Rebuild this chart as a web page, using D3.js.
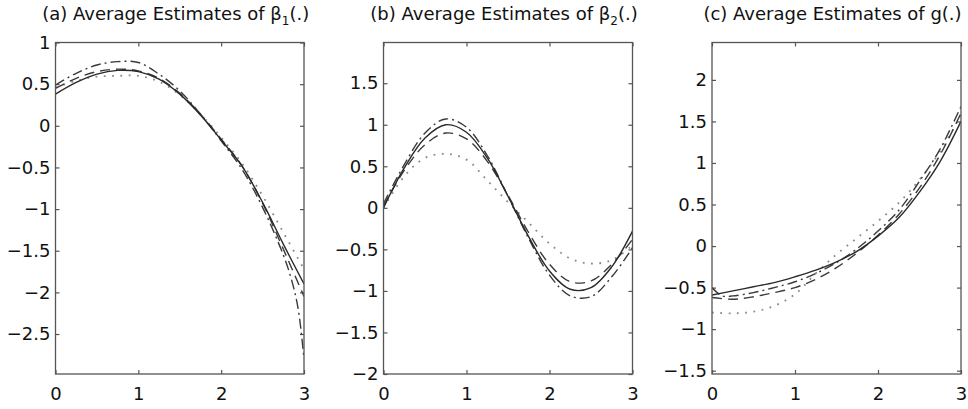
<!DOCTYPE html>
<html>
<head>
<meta charset="utf-8">
<script src="https://cdn.jsdelivr.net/npm/d3@7"></script>
<style>
  body { margin: 0; background: #fff; }
  text { font-family: "DejaVu Sans", sans-serif; fill: #111; }
  .axis path { display: none; }
  .axis line { stroke: #555; stroke-width: 1.2; }
  .axis text { font-size: 18px; }
</style>
</head>
<body>
<div id="content"></div>
<script>
var Width = 968;
var Height = 409;

// x 网格与刻度
var xs = [0, 0.25, 0.5, 0.75, 1, 1.25, 1.5, 1.75, 2, 2.25, 2.5, 2.75, 3];
var xTicks = [0, 1, 2, 3];

// (a) beta1
var aTicks = [-2.5, -2, -1.5, -1, -0.5, 0, 0.5, 1];
var aSolid = [0.38, 0.52, 0.62, 0.665, 0.65, 0.56, 0.38, 0.13, -0.17, -0.48, -0.92, -1.42, -1.9];
var aDashed = [0.45, 0.57, 0.65, 0.68, 0.66, 0.57, 0.39, 0.14, -0.16, -0.48, -0.93, -1.48, -2.05];
var aDashDotX = [0, 0.25, 0.5, 0.75, 1, 1.25, 1.5, 1.75, 2, 2.25, 2.5, 2.75, 2.85, 2.93, 3];
var aDashDot = [0.49, 0.63, 0.73, 0.77, 0.76, 0.62, 0.42, 0.14, -0.18, -0.52, -0.98, -1.55, -1.85, -2.2, -2.8];
var aDotted = [0.46, 0.54, 0.59, 0.6, 0.6, 0.53, 0.37, 0.14, -0.14, -0.45, -0.84, -1.28, -1.72];

// (b) beta2
var bTicks = [-2, -1.5, -1, -0.5, 0, 0.5, 1, 1.5];
var bSolid = [0, 0.48, 0.84, 1.0, 0.91, 0.6, 0.14, -0.35, -0.76, -0.98, -0.96, -0.71, -0.28];
var bDashed = [0.02, 0.45, 0.76, 0.9, 0.83, 0.56, 0.15, -0.3, -0.68, -0.89, -0.88, -0.68, -0.38];
var bDashDot = [0.05, 0.52, 0.9, 1.07, 0.97, 0.63, 0.14, -0.37, -0.81, -1.06, -1.07, -0.83, -0.48];
var bDotted = [0.0, 0.38, 0.6, 0.65, 0.58, 0.33, 0.07, -0.18, -0.43, -0.61, -0.67, -0.63, -0.45];

// (c) g
var cTicks = [-1.5, -1, -0.5, 0, 0.5, 1, 1.5, 2];
var cSolid = [-0.59, -0.54, -0.49, -0.44, -0.37, -0.29, -0.19, -0.06, 0.12, 0.34, 0.65, 1.02, 1.5];
var cDashed = [-0.62, -0.64, -0.61, -0.56, -0.5, -0.4, -0.26, -0.08, 0.13, 0.38, 0.7, 1.1, 1.6];
var cDashDotX = [0, 0.12, 0.25, 0.5, 0.75, 1, 1.25, 1.5, 1.75, 2, 2.25, 2.5, 2.75, 3];
var cDashDot = [-0.5, -0.6, -0.6, -0.56, -0.5, -0.43, -0.33, -0.2, -0.03, 0.18, 0.43, 0.78, 1.17, 1.68];
var cDotted = [-0.8, -0.81, -0.79, -0.72, -0.58, -0.33, -0.1, 0.1, 0.3, 0.52, 0.8, 1.14, 1.58];

var svg = d3
  .select("#content")
  .append("svg")
  .attr("width", Width)
  .attr("height", Height);

// 线型
var styles = {
  solid: { stroke: "#2a2a2a", width: 1.4, dash: null },
  dashed: { stroke: "#3a3a3a", width: 1.4, dash: "10,6" },
  dashdot: { stroke: "#3a3a3a", width: 1.4, dash: "10,4,2,4" },
  dotted: { stroke: "#8a8a8a", width: 1.8, dash: "1.8,6.5" },
};

var panels = [
  {
    left: 55.5, right: 304, domain: [-2.98, 1], yTicks: aTicks,
    title: ["(a) Average Estimates of β", "1", "(.)"],
    series: [
      [xs, aDotted, "dotted"], [xs, aDashed, "dashed"],
      [aDashDotX, aDashDot, "dashdot"], [xs, aSolid, "solid"],
    ],
  },
  {
    left: 383.5, right: 632.5, domain: [-2, 1.99], yTicks: bTicks,
    title: ["(b) Average Estimates of β", "2", "(.)"],
    series: [
      [xs, bDotted, "dotted"], [xs, bDashed, "dashed"],
      [xs, bDashDot, "dashdot"], [xs, bSolid, "solid"],
    ],
  },
  {
    left: 712, right: 961, domain: [-1.54, 2.45], yTicks: cTicks,
    title: ["(c) Average Estimates of g(.)"],
    series: [
      [xs, cDotted, "dotted"], [xs, cDashed, "dashed"],
      [cDashDotX, cDashDot, "dashdot"], [xs, cSolid, "solid"],
    ],
  },
];

var plotTop = 42.5;
var plotBottom = 374;
var fmt = function (d) {
  return String(d).replace("-", "\u2212");
};

panels.forEach(function (p, i) {
  var xScale = d3.scaleLinear().domain([0, 3]).range([p.left, p.right]);
  var yScale = d3.scaleLinear().domain(p.domain).range([plotBottom, plotTop]);
  var g = svg.append("g");

  // 裁剪区域
  g.append("clipPath")
    .attr("id", "clip" + i)
    .append("rect")
    .attr("x", p.left)
    .attr("y", plotTop)
    .attr("width", p.right - p.left)
    .attr("height", plotBottom - plotTop);

  // 坐标轴（刻度朝内，四边都有）
  g.append("g")
    .attr("class", "axis")
    .attr("transform", "translate(0," + plotBottom + ")")
    .call(d3.axisBottom(xScale).tickValues(xTicks).tickFormat(fmt).tickSizeInner(-4).tickSizeOuter(0).tickPadding(13));
  g.append("g")
    .attr("class", "axis")
    .attr("transform", "translate(0," + plotTop + ")")
    .call(d3.axisTop(xScale).tickValues(xTicks).tickFormat("").tickSizeInner(-4).tickSizeOuter(0));
  g.append("g")
    .attr("class", "axis")
    .attr("transform", "translate(" + p.left + ",0)")
    .call(d3.axisLeft(yScale).tickValues(p.yTicks).tickFormat(fmt).tickSizeInner(-4).tickSizeOuter(0).tickPadding(5));
  g.append("g")
    .attr("class", "axis")
    .attr("transform", "translate(" + p.right + ",0)")
    .call(d3.axisRight(yScale).tickValues(p.yTicks).tickFormat("").tickSizeInner(-4).tickSizeOuter(0));

  // 曲线
  var line = d3
    .line()
    .x(function (d) { return xScale(d[0]); })
    .y(function (d) { return yScale(d[1]); })
    .curve(d3.curveCatmullRom.alpha(0.5));

  p.series.forEach(function (s) {
    var st = styles[s[2]];
    var pts = s[0].map(function (x, k) { return [x, s[1][k]]; });
    g.append("path")
      .datum(pts)
      .attr("clip-path", "url(#clip" + i + ")")
      .attr("fill", "none")
      .attr("stroke", st.stroke)
      .attr("stroke-width", st.width)
      .attr("stroke-dasharray", st.dash)
      .attr("d", line);
  });

  // 边框
  g.append("rect")
    .attr("x", p.left)
    .attr("y", plotTop)
    .attr("width", p.right - p.left)
    .attr("height", plotBottom - plotTop)
    .attr("fill", "none")
    .attr("stroke", "#555")
    .attr("stroke-width", 1.3);

  // 标题
  var t = svg
    .append("text")
    .attr("x", (p.left + p.right) / 2 - 4)
    .attr("y", 20)
    .attr("text-anchor", "middle")
    .style("font-size", "18px");
  t.append("tspan").text(p.title[0]);
  if (p.title.length > 1) {
    t.append("tspan").attr("dy", 5).style("font-size", "12px").text(p.title[1]);
    t.append("tspan").attr("dy", -5).text(p.title[2]);
  }
});
</script>
</body>
</html>
